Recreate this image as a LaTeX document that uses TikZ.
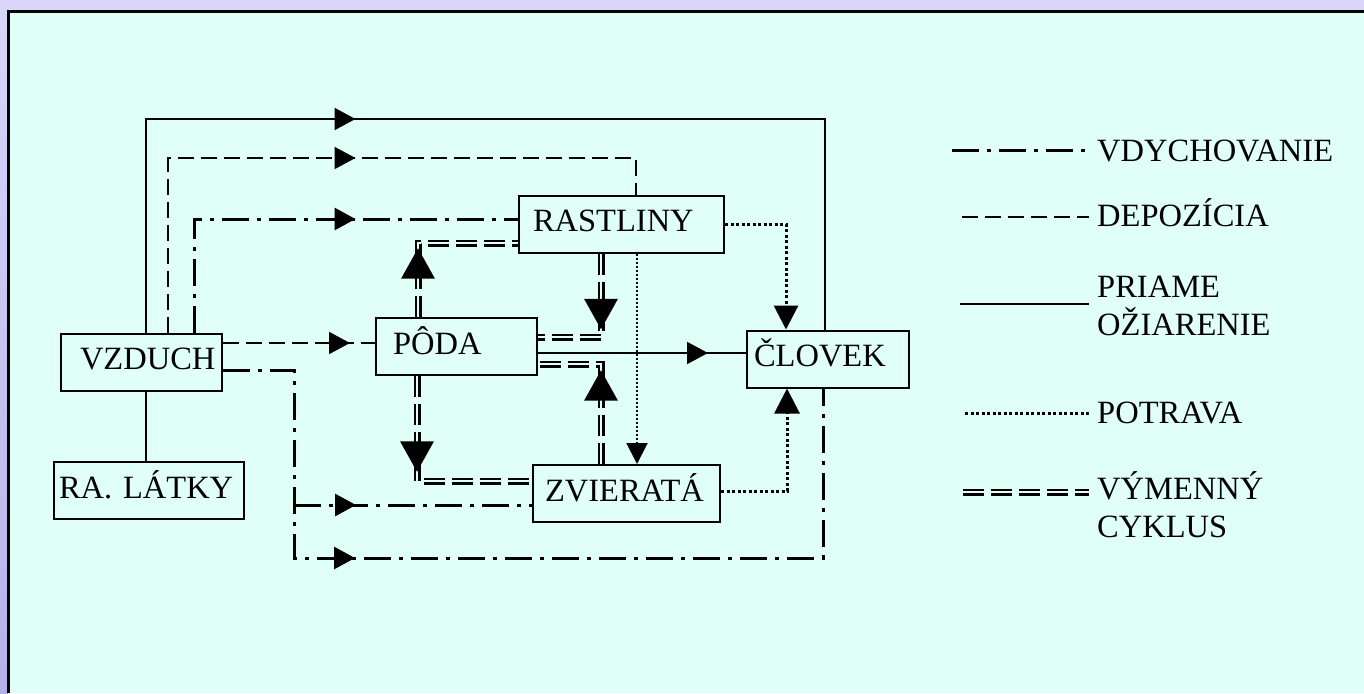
\documentclass[tikz,border=0pt]{standalone}
\usepackage{fontspec}
\setmainfont{Liberation Serif}
\usetikzlibrary{arrows.meta,decorations.markings}
\definecolor{Mint}{HTML}{E0FFF7}
\definecolor{Lilac}{HTML}{D9D6FA}
\definecolor{LilacDeep}{HTML}{B4B1E9}
\tikzset{
 box/.style 2 args={draw,line width=2pt,fill=Mint,align=left,text width=#1,inner xsep=#2,
   inner ysep=0pt,minimum height=57pt,text height=22pt,text depth=7pt,
   font=\fontsize{32.5}{38}\selectfont},
 legtext/.style={anchor=base west,inner sep=0pt,align=left,font=\fontsize{32.5}{38}\selectfont},
 direct/.style={line width=2pt},
 depo/.style={line width=2pt,dash pattern=on 16pt off 7pt},
 vdych/.style={line width=3pt,dash pattern=on 27pt off 8pt on 4pt off 8pt},
 food/.style={line width=3pt,dash pattern=on 3pt off 2.5pt},
 foodthin/.style={line width=2pt,dash pattern=on 2pt off 2pt},
 exch/.style={line width=2.2pt,double=Mint,double distance=2.6pt,dash pattern=on 21pt off 7pt},
 endtip/.style={-{Triangle[length=#1,width=#1]}},
 midarr/.style={postaction={decorate,decoration={markings,
   mark=at position #1 with {\arrow{Triangle[length=21pt,width=22pt]}}}}},
 bigmid/.style={postaction={decorate,decoration={markings,
   mark=at position #1 with {\arrow{Triangle[length=38pt,width=40pt]}}}}}
}
\begin{document}
\begin{tikzpicture}[x=1pt,y=-1pt]
\useasboundingbox (0,0) rectangle (1364,693);
\fill[Lilac] (0,0) rectangle (1364,693);
\shade[top color=Lilac,bottom color=LilacDeep] (0,0) rectangle (8,693);
\fill[Mint] (8,11) rectangle (1364,693);
\draw[line width=3pt] (8.5,693) -- (8.5,11.5) -- (1364,11.5);

\node[box={123pt}{19pt}] (vz) at (141.5,362) {VZDUCH};
\node[box={180pt}{5pt}] (rl) at (149,490.5) {\mbox{RA. LÁTKY}};
\node[box={177pt}{14pt}] (ra) at (621.5,224) {RASTLINY};
\node[box={127pt}{17pt}] (po) at (456.5,346.5) {PÔDA};
\node[box={163pt}{12pt}] (zv) at (626.5,493.5) {ZVIERATÁ};
\node[box={148pt}{7pt}] (cl) at (828,359) {ČLOVEK};

\draw[direct] (vz.south -| 146,0) -- (rl.north -| 146,0);
\draw[direct,midarr=423pt] (vz.north -| 146,0) |- (825,119) -- (cl.north -| 825,0);
\draw[depo,midarr=362pt] (vz.north -| 168,0) |- (636,158) -- (ra.north -| 636,0);
\draw[vdych,midarr=275pt] (vz.north -| 194,0) |- (ra.west |- 0,219);
\draw[depo,midarr=127pt] (vz.east |- 0,343) -- (po.west |- 0,343);
\coordinate (fork) at (294,505);
\draw[vdych,midarr=320pt] (vz.east |- 0,370) -| (294,558) -| (cl.south -| 823,0);
\draw[vdych,midarr=62pt] (fork) -- (zv.west |- fork);
\draw[direct,midarr=170pt] (po.east |- 0,353) -- (cl.west |- 0,353);

\draw[exch,bigmid=74pt] (po.north -| 418,0) |- (ra.west |- 0,243);
\draw[exch,bigmid=81pt] (ra.south -| 601,0) |- (po.east |- 0,337);
\draw[exch,bigmid=99pt] (zv.north -| 601,0) |- (po.east |- 0,364);
\draw[exch,bigmid=101pt] (po.south -| 417,0) |- (zv.west |- 0,481);

\draw[food,endtip=24pt] (ra.east) -| (cl.north -| 786,0);
\draw[foodthin,endtip=21pt] (ra.south -| 637,0) -- (zv.north -| 637,0);
\draw[food,endtip=25pt] (zv.east |- 0,491) -| (cl.south -| 787,0);

\foreach \n/\s/\x/\ly/\ty/\t in {1/vdych/952/150/161/VDYCHOVANIE,2/depo/962/217/226/DEPOZÍCIA,
  3/direct/960/304/335/{PRIAME\\OŽIARENIE},4/food/965/413/423/POTRAVA,
  5/exch/963/492/537/{VÝMENNÝ\\CYKLUS}}{
  \node[legtext] (lg\n) at (1097,\ty) {\t};
  \coordinate (ls\n) at (\x,\ly);
  \draw[\s,shorten >=8pt] (ls\n) -- (ls\n -| lg\n.west);
}
\end{tikzpicture}
\end{document}
